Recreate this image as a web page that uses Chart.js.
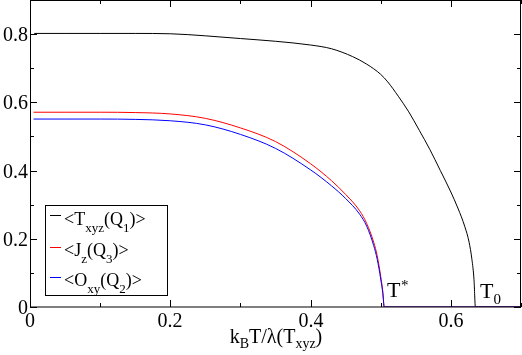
<!DOCTYPE html>
<html>
<head>
<meta charset="utf-8">
<script src="https://cdn.jsdelivr.net/npm/chart.js@4.4.0/dist/chart.umd.min.js"></script>
<style>
html,body{margin:0;padding:0;background:#fff;}
#wrap{width:522px;height:355px;position:relative;}
</style>
</head>
<body>
<div id="wrap"><canvas id="c" width="522" height="355"></canvas></div>
<script>
// ---- data ----
const txyzX = [0.006,0.05,0.1,0.15,0.2,0.25,0.3,0.35,0.4,0.43,0.46,0.48,0.5,0.51,0.525,0.54,0.555,0.57,0.585,0.6,0.61,0.62,0.626,0.63,0.633,0.635,0.66,0.7];
const txyzY = [0.802,0.802,0.802,0.802,0.801,0.795,0.787,0.779,0.768,0.757,0.734,0.712,0.682,0.66,0.618,0.572,0.518,0.462,0.4,0.337,0.29,0.235,0.19,0.14,0.08,0.0,0.0,0.0];
const jzX = [0.005,0.05,0.1,0.15,0.2,0.25,0.3,0.35,0.4,0.43,0.45,0.47,0.48,0.49,0.495,0.5,0.503,0.505,0.6,0.7];
const jzY = [0.571,0.571,0.571,0.570,0.566,0.553,0.525,0.485,0.42,0.37,0.33,0.282,0.245,0.19,0.15,0.09,0.045,0.0,0.0,0.0];
const oxyX = [0.005,0.05,0.1,0.15,0.2,0.25,0.3,0.35,0.4,0.43,0.45,0.47,0.48,0.49,0.495,0.5,0.503,0.505,0.6,0.7];
const oxyY = [0.551,0.551,0.551,0.550,0.546,0.534,0.506,0.465,0.402,0.355,0.318,0.272,0.237,0.18,0.14,0.082,0.04,0.0,0.0,0.0];
const xTickValues = [0,0.2,0.4,0.6];
const xTickLabels = ['0','0.2','0.4','0.6'];
const yTickValues = [0,0.2,0.4,0.6,0.8];
const yTickLabels = ['0','0.2','0.4','0.6','0.8'];
const xMinorValues = [0.1,0.3,0.5,0.7];
const yMinorValues = [0.1,0.3,0.5,0.7,0.9];

const pts = (xs, ys) => xs.map((x, i) => ({x: x, y: ys[i]}));

function setFont(ctx, size) { ctx.font = size + 'px "Liberation Serif"'; }

function rich(ctx, parts, x, y, size, subSize, subDy, align) {
  let w = 0;
  parts.forEach(p => { setFont(ctx, p[1] ? subSize : size); w += ctx.measureText(p[0]).width; });
  let cx = align === 'center' ? x - w / 2 : x;
  ctx.textAlign = 'left';
  ctx.textBaseline = 'alphabetic';
  parts.forEach(p => {
    setFont(ctx, p[1] ? subSize : size);
    ctx.fillText(p[0], cx, p[1] ? y + subDy : y);
    cx += ctx.measureText(p[0]).width;
  });
}

const decor = {
  id: 'decor',
  afterDraw(chart) {
    const ctx = chart.ctx;
    const xs = chart.scales.x, ys = chart.scales.y;
    const L = xs.left, R = xs.right, T = ys.top, B = ys.bottom;
    ctx.save();
    ctx.strokeStyle = '#000000';
    ctx.lineWidth = 1;
    ctx.strokeRect(Math.round(L) + 0.5, Math.round(T) + 0.5, Math.round(R - L) - 1, Math.round(B - T) - 0.5);
    ctx.beginPath();
    xTickValues.forEach(v => { const px = Math.round(xs.getPixelForValue(v)) + 0.5; ctx.moveTo(px, B); ctx.lineTo(px, B - 7); ctx.moveTo(px, T); ctx.lineTo(px, T + 7); });
    xMinorValues.forEach(v => { const px = Math.round(xs.getPixelForValue(v)) + 0.5; ctx.moveTo(px, B); ctx.lineTo(px, B - 4); ctx.moveTo(px, T); ctx.lineTo(px, T + 4); });
    yTickValues.forEach(v => { const py = Math.round(ys.getPixelForValue(v)) + 0.5; ctx.moveTo(L, py); ctx.lineTo(L + 7, py); ctx.moveTo(R, py); ctx.lineTo(R - 7, py); });
    yMinorValues.forEach(v => { const py = Math.round(ys.getPixelForValue(v)) + 0.5; ctx.moveTo(L, py); ctx.lineTo(L + 4, py); ctx.moveTo(R, py); ctx.lineTo(R - 4, py); });
    ctx.stroke();
    ctx.fillStyle = '#000000';
    setFont(ctx, 20);
    ctx.textAlign = 'center';
    ctx.textBaseline = 'alphabetic';
    xTickValues.forEach((v, i) => ctx.fillText(xTickLabels[i], Math.round(xs.getPixelForValue(v)), 327));
    ctx.textAlign = 'right';
    yTickValues.forEach((v, i) => ctx.fillText(yTickLabels[i], 28, Math.round(ys.getPixelForValue(v)) + 7));
    rich(ctx, [['k', false], ['B', true], ['T/λ(T', false], ['xyz', true], [')', false]], Math.round((L + R) / 2), 343, 20, 14, 5, 'center');
    rich(ctx, [['T', false]], Math.round(xs.getPixelForValue(0.509)), 297, 22, 15, 0, 'left');
    setFont(ctx, 15); ctx.textAlign = 'left';
    ctx.fillText('*', Math.round(xs.getPixelForValue(0.509)) + 14, 290);
    rich(ctx, [['T', false], ['0', true]], Math.round(xs.getPixelForValue(0.641)), 298, 22, 15, 6, 'left');
    ctx.fillStyle = '#ffffff';
    ctx.fillRect(45.5, 205.5, 122, 90);
    ctx.strokeStyle = '#000000';
    ctx.strokeRect(45.5, 205.5, 122, 90);
    const rows = [
      {c: '#000000', y: 215, b: 225, parts: [['<T', false], ['xyz', true], ['(Q', false], ['1', true], [')>', false]]},
      {c: '#ff0000', y: 247, b: 256, parts: [['<J', false], ['z', true], ['(Q', false], ['3', true], [')>', false]]},
      {c: '#0000ff', y: 277, b: 286, parts: [['<O', false], ['xy', true], ['(Q', false], ['2', true], [')>', false]]}
    ];
    rows.forEach(r => {
      ctx.strokeStyle = r.c;
      ctx.beginPath(); ctx.moveTo(50, r.y + 0.5); ctx.lineTo(61, r.y + 0.5); ctx.stroke();
      ctx.fillStyle = '#000000';
      rich(ctx, r.parts, 64, r.b, 18, 13, 7, 'left');
    });
    ctx.restore();
  }
};

new Chart(document.getElementById('c'), {
  type: 'line',
  data: {
    datasets: [
      {label: 'Txyz', data: pts(txyzX, txyzY), borderColor: '#000000', borderWidth: 1, pointRadius: 0, cubicInterpolationMode: 'monotone', order: 2},
      {label: 'Jz', data: pts(jzX, jzY), borderColor: '#ff0000', borderWidth: 1, pointRadius: 0, cubicInterpolationMode: 'monotone', order: 1},
      {label: 'Oxy', data: pts(oxyX, oxyY), borderColor: '#0000ff', borderWidth: 1, pointRadius: 0, cubicInterpolationMode: 'monotone', order: 0}
    ]
  },
  options: {
    responsive: false,
    animation: false,
    devicePixelRatio: 1,
    layout: {padding: {left: 30, right: 1, top: 0, bottom: 48}},
    plugins: {legend: {display: false}, tooltip: {enabled: false}},
    scales: {
      x: {type: 'linear', min: 0, max: 0.7, display: false},
      y: {type: 'linear', min: 0, max: 0.9, display: false}
    }
  },
  plugins: [decor]
});
</script>
</body>
</html>
